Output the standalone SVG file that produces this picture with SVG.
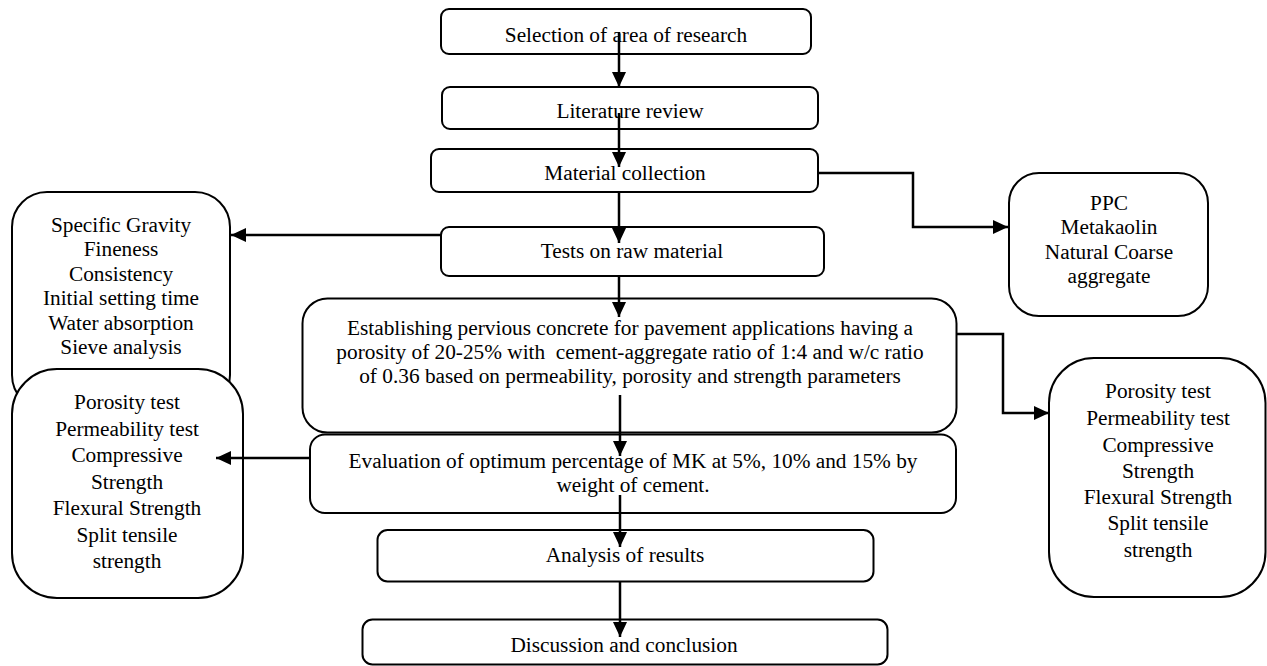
<svg xmlns="http://www.w3.org/2000/svg" width="1267" height="666" viewBox="0 0 1267 666">
<style>
.box{fill:#fff;stroke:#000;stroke-width:2}
.t{font-family:"Liberation Serif","Times New Roman",serif;font-size:21.3px;fill:#000;text-anchor:middle}
.c{fill:none;stroke:#000;stroke-width:2.5}
</style>
<defs>
<marker id="ah" markerUnits="userSpaceOnUse" viewBox="0 0 15 14" refX="15" refY="7" markerWidth="15" markerHeight="14" orient="auto">
<path d="M0,0 L15,7 L0,14 z" fill="#000"/>
</marker>
</defs>
<rect x="0" y="0" width="1267" height="666" fill="#fff"/>

<g id="n-selection"><rect class="box" x="441" y="9" width="370" height="45" rx="8"/><text class="t" x="626" y="42">Selection of area of research</text></g>
<g id="n-literature"><rect class="box" x="442" y="87" width="376" height="42" rx="8"/><text class="t" x="630" y="118">Literature review</text></g>
<g id="n-material"><rect class="box" x="431" y="149" width="387" height="43" rx="8"/><text class="t" x="625" y="180">Material collection</text></g>
<g id="n-tests"><rect class="box" x="441" y="227" width="383" height="49" rx="8"/><text class="t" x="632" y="258">Tests on raw material</text></g>
<g id="n-establishing"><rect class="box" x="302.5" y="298.5" width="654" height="134" rx="25"/>
<text class="t" x="630" y="335">Establishing pervious concrete for pavement applications having a</text>
<text class="t" x="630" y="359" xml:space="preserve">porosity of 20-25% with  cement-aggregate ratio of 1:4 and w/c ratio</text>
<text class="t" x="630" y="383">of 0.36 based on permeability, porosity and strength parameters</text></g>
<g id="n-evaluation"><rect class="box" x="310" y="434.5" width="646" height="78.5" rx="15"/>
<text class="t" x="633" y="468">Evaluation of optimum percentage of MK at 5%, 10% and 15% by</text>
<text class="t" x="633" y="492">weight of cement.</text></g>
<g id="n-analysis"><rect class="box" x="377.5" y="530" width="496" height="51.5" rx="10"/><text class="t" x="625" y="562">Analysis of results</text></g>
<g id="n-discussion"><rect class="box" x="362.5" y="619.5" width="525" height="45" rx="10"/><text class="t" x="624" y="652">Discussion and conclusion</text></g>

<g id="n-rawtests"><rect class="box" x="12" y="192" width="218" height="218" rx="35"/>
<text class="t" x="121" y="232">Specific Gravity</text>
<text class="t" x="121" y="256">Fineness</text>
<text class="t" x="121" y="281">Consistency</text>
<text class="t" x="121" y="305">Initial setting time</text>
<text class="t" x="121" y="330">Water absorption</text>
<text class="t" x="121" y="354">Sieve analysis</text></g>
<g id="n-mktests"><rect class="box" x="12" y="369" width="231" height="229" rx="45"/>
<text class="t" x="127" y="409">Porosity test</text>
<text class="t" x="127" y="436">Permeability test</text>
<text class="t" x="127" y="462">Compressive</text>
<text class="t" x="127" y="489">Strength</text>
<text class="t" x="127" y="515">Flexural Strength</text>
<text class="t" x="127" y="542">Split tensile</text>
<text class="t" x="127" y="568">strength</text></g>
<g id="n-materials"><rect class="box" x="1009" y="173" width="199" height="143" rx="30"/>
<text class="t" x="1109" y="210">PPC</text>
<text class="t" x="1109" y="234">Metakaolin</text>
<text class="t" x="1109" y="259">Natural Coarse</text>
<text class="t" x="1109" y="283">aggregate</text></g>
<g id="n-pctests"><rect class="box" x="1049" y="358" width="216.5" height="239" rx="45"/>
<text class="t" x="1158" y="398">Porosity test</text>
<text class="t" x="1158" y="425">Permeability test</text>
<text class="t" x="1158" y="452">Compressive</text>
<text class="t" x="1158" y="478">Strength</text>
<text class="t" x="1158" y="504">Flexural Strength</text>
<text class="t" x="1158" y="530">Split tensile</text>
<text class="t" x="1158" y="557">strength</text></g>

<g id="connectors">
<path class="c" d="M619,32 V87" marker-end="url(#ah)"/>
<path class="c" d="M619,113 V167" marker-end="url(#ah)"/>
<path class="c" d="M619,192 V243" marker-end="url(#ah)"/>
<path class="c" d="M619,276 V317" marker-end="url(#ah)"/>
<path class="c" d="M620,395 V456" marker-end="url(#ah)"/>
<path class="c" d="M620,495 V547" marker-end="url(#ah)"/>
<path class="c" d="M620,582 V637" marker-end="url(#ah)"/>
<path class="c" d="M441,235 H231" marker-end="url(#ah)"/>
<path class="c" d="M310,458 H216" marker-end="url(#ah)"/>
<path class="c" d="M818,173 H913 V227 H1008" marker-end="url(#ah)"/>
<path class="c" d="M957,334 H1003 V413 H1049" marker-end="url(#ah)"/>
</g>
</svg>
